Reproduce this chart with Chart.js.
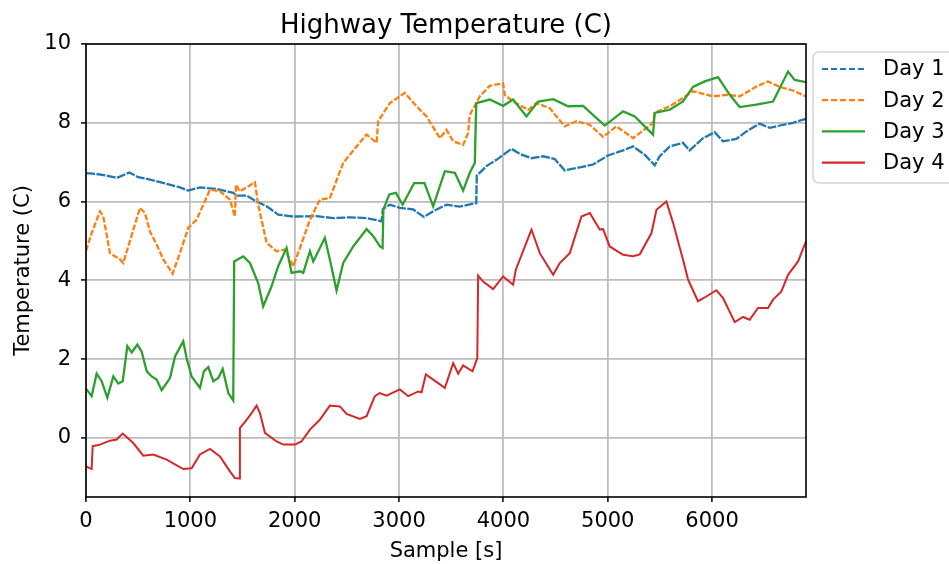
<!DOCTYPE html>
<html>
<head>
    <title>Highway Temperature</title>
    <script src="https://cdn.jsdelivr.net/npm/chart.js@4.4.0/dist/chart.umd.min.js"></script>
    <style>
        body { margin: 0; background: #fff; }
    </style>
</head>
<body>
    <canvas id="tempChart" width="949" height="564"></canvas>

    <script>
        // sample times [s] and temperatures (C) for each day
        const day1Samples = [0, 100, 200, 297, 415, 500, 613, 773, 900, 980, 1092, 1252, 1411, 1443, 1539, 1635, 1731, 1842, 1986, 2209, 2369, 2529, 2688, 2832, 2845, 2912, 3008, 3135, 3238, 3324, 3455, 3582, 3710, 3740, 3745, 3838, 3934, 4078, 4157, 4269, 4380, 4492, 4588, 4700, 4860, 5003, 5147, 5243, 5354, 5450, 5498, 5594, 5721, 5785, 5913, 6025, 6105, 6233, 6329, 6456, 6552, 6680, 6775, 6900];
        const day1Temps = [6.72, 6.70, 6.66, 6.60, 6.74, 6.62, 6.56, 6.45, 6.36, 6.28, 6.36, 6.32, 6.22, 6.15, 6.15, 6.00, 5.88, 5.67, 5.62, 5.63, 5.58, 5.60, 5.58, 5.50, 5.81, 5.92, 5.84, 5.80, 5.61, 5.75, 5.92, 5.87, 5.95, 5.96, 6.66, 6.90, 7.06, 7.34, 7.21, 7.10, 7.15, 7.08, 6.79, 6.85, 6.94, 7.17, 7.30, 7.40, 7.19, 6.92, 7.15, 7.40, 7.49, 7.30, 7.61, 7.76, 7.53, 7.59, 7.78, 7.98, 7.87, 7.95, 8.00, 8.10];

        const day2Samples = [0, 54, 134, 166, 230, 326, 357, 405, 517, 565, 613, 677, 741, 830, 900, 980, 1060, 1188, 1284, 1379, 1427, 1437, 1475, 1619, 1650, 1731, 1826, 1906, 1986, 2050, 2146, 2241, 2337, 2465, 2593, 2689, 2785, 2800, 2912, 3056, 3168, 3264, 3391, 3455, 3519, 3614, 3662, 3678, 3774, 3870, 3997, 4013, 4093, 4237, 4317, 4444, 4588, 4700, 4828, 4955, 5083, 5243, 5371, 5434, 5450, 5594, 5721, 5817, 6009, 6137, 6264, 6424, 6536, 6648, 6775, 6900];
        const day2Temps = [4.75, 5.20, 5.75, 5.62, 4.69, 4.53, 4.44, 4.86, 5.84, 5.71, 5.24, 4.91, 4.53, 4.17, 4.69, 5.33, 5.54, 6.30, 6.26, 6.05, 5.62, 6.43, 6.26, 6.49, 5.92, 4.95, 4.74, 4.78, 4.36, 4.82, 5.54, 6.05, 6.09, 6.98, 7.40, 7.70, 7.49, 8.04, 8.50, 8.76, 8.42, 8.16, 7.61, 7.82, 7.53, 7.44, 7.74, 8.20, 8.67, 8.94, 9.00, 8.71, 8.54, 8.33, 8.50, 8.37, 7.91, 8.04, 7.95, 7.64, 7.91, 7.61, 7.87, 8.00, 8.25, 8.42, 8.63, 8.80, 8.67, 8.71, 8.67, 8.92, 9.05, 8.91, 8.82, 8.67];

        const day3Samples = [0, 54, 102, 150, 204, 262, 310, 352, 396, 438, 492, 534, 582, 630, 677, 725, 805, 853, 932, 964, 1012, 1092, 1130, 1172, 1220, 1268, 1310, 1364, 1411, 1420, 1507, 1571, 1650, 1698, 1778, 1842, 1922, 1970, 2050, 2082, 2146, 2178, 2289, 2337, 2401, 2465, 2561, 2689, 2753, 2817, 2842, 2850, 2906, 2970, 3034, 3145, 3244, 3327, 3439, 3535, 3614, 3678, 3726, 3740, 3870, 3997, 4093, 4221, 4333, 4477, 4620, 4764, 4971, 5147, 5259, 5434, 5450, 5594, 5721, 5817, 5929, 6057, 6169, 6264, 6424, 6584, 6728, 6791, 6900];
        const day3Temps = [1.25, 1.06, 1.63, 1.44, 1.02, 1.56, 1.38, 1.44, 2.33, 2.17, 2.37, 2.19, 1.69, 1.56, 1.48, 1.21, 1.52, 2.07, 2.45, 2.03, 1.56, 1.27, 1.69, 1.80, 1.44, 1.52, 1.75, 1.14, 0.95, 4.48, 4.61, 4.44, 3.93, 3.34, 3.85, 4.36, 4.82, 4.19, 4.23, 4.19, 4.74, 4.48, 5.08, 4.53, 3.74, 4.44, 4.86, 5.30, 5.12, 4.86, 4.82, 5.80, 6.18, 6.22, 5.92, 6.47, 6.47, 5.88, 6.77, 6.73, 6.28, 6.73, 6.98, 8.50, 8.59, 8.43, 8.59, 8.16, 8.54, 8.60, 8.42, 8.43, 7.93, 8.29, 8.16, 7.70, 8.25, 8.33, 8.54, 8.91, 9.05, 9.16, 8.71, 8.40, 8.46, 8.54, 9.30, 9.09, 9.03];

        const day4Samples = [0, 54, 64, 134, 230, 294, 352, 453, 549, 645, 773, 932, 1012, 1092, 1188, 1284, 1379, 1427, 1469, 1475, 1539, 1587, 1635, 1667, 1715, 1826, 1890, 2002, 2065, 2146, 2241, 2337, 2433, 2497, 2625, 2689, 2768, 2816, 2880, 3008, 3088, 3184, 3216, 3257, 3327, 3439, 3519, 3567, 3614, 3704, 3750, 3758, 3806, 3902, 3997, 4093, 4119, 4269, 4349, 4477, 4540, 4636, 4748, 4828, 4923, 4955, 5019, 5147, 5243, 5307, 5419, 5467, 5562, 5626, 5721, 5770, 5865, 5945, 6041, 6105, 6217, 6296, 6360, 6440, 6536, 6584, 6664, 6728, 6824, 6900];
        const day4Temps = [-0.72, -0.79, -0.21, -0.17, -0.07, -0.04, 0.11, -0.13, -0.45, -0.42, -0.55, -0.79, -0.77, -0.42, -0.28, -0.47, -0.85, -1.02, -1.03, 0.25, 0.46, 0.63, 0.82, 0.63, 0.13, -0.09, -0.17, -0.17, -0.09, 0.21, 0.46, 0.82, 0.80, 0.61, 0.48, 0.55, 1.06, 1.14, 1.07, 1.23, 1.06, 1.18, 1.16, 1.61, 1.48, 1.27, 1.90, 1.63, 1.84, 1.69, 2.03, 4.12, 3.97, 3.78, 4.10, 3.89, 4.27, 5.29, 4.69, 4.14, 4.44, 4.69, 5.62, 5.71, 5.29, 5.30, 4.86, 4.65, 4.61, 4.66, 5.20, 5.79, 6.00, 5.46, 4.53, 4.02, 3.47, 3.59, 3.75, 3.55, 2.94, 3.07, 3.00, 3.30, 3.30, 3.51, 3.72, 4.14, 4.48, 4.99];

        const dayLabels = ['Day 1', 'Day 2', 'Day 3', 'Day 4'];
        const xTickValues = [0, 1000, 2000, 3000, 4000, 5000, 6000];
        const yTickValues = [0, 2, 4, 6, 8, 10];

        const colors = ['#1f77b4', '#ff7f0e', '#2ca02c', '#d62728'];
        const dashes = [[9, 1.5], [6, 2], [], []];

        function toPoints(xs, ys) {
            return xs.map((x, i) => ({ x: x, y: ys[i] }));
        }

        const series = [
            toPoints(day1Samples, day1Temps),
            toPoints(day2Samples, day2Temps),
            toPoints(day3Samples, day3Temps),
            toPoints(day4Samples, day4Temps)
        ];

        Chart.defaults.font.family = "'DejaVu Sans', sans-serif";
        Chart.defaults.color = '#000';

        // title, axis labels, frame and legend box drawn around the plot
        const decorations = {
            id: 'decorations',
            afterDraw(chart) {
                const ctx = chart.ctx;
                const a = chart.chartArea;
                ctx.save();

                ctx.strokeStyle = '#000';
                ctx.lineWidth = 1.6;
                ctx.strokeRect(a.left, a.top, a.right - a.left, a.bottom - a.top);

                ctx.fillStyle = '#000';
                ctx.textAlign = 'center';
                ctx.textBaseline = 'alphabetic';
                ctx.font = "26px 'DejaVu Sans'";
                ctx.fillText('Highway Temperature (C)', (a.left + a.right) / 2, 33);

                ctx.font = "21px 'DejaVu Sans'";
                ctx.fillText('Sample [s]', (a.left + a.right) / 2, 557);

                ctx.save();
                ctx.translate(29, (a.top + a.bottom) / 2);
                ctx.rotate(-Math.PI / 2);
                ctx.fillText('Temperature (C)', 0, 0);
                ctx.restore();

                // legend
                const lx = 813, ly = 52, lw = 180, lh = 131, r = 6;
                ctx.beginPath();
                ctx.moveTo(lx + r, ly);
                ctx.lineTo(lx + lw - r, ly);
                ctx.arcTo(lx + lw, ly, lx + lw, ly + r, r);
                ctx.lineTo(lx + lw, ly + lh - r);
                ctx.arcTo(lx + lw, ly + lh, lx + lw - r, ly + lh, r);
                ctx.lineTo(lx + r, ly + lh);
                ctx.arcTo(lx, ly + lh, lx, ly + lh - r, r);
                ctx.lineTo(lx, ly + r);
                ctx.arcTo(lx, ly, lx + r, ly, r);
                ctx.closePath();
                ctx.fillStyle = 'rgba(255,255,255,0.8)';
                ctx.fill();
                ctx.strokeStyle = '#d4d4d4';
                ctx.lineWidth = 1.5;
                ctx.stroke();

                ctx.textAlign = 'left';
                ctx.textBaseline = 'middle';
                ctx.font = "21px 'DejaVu Sans'";
                dayLabels.forEach((label, i) => {
                    const y = 69 + i * 31.2;
                    ctx.strokeStyle = colors[i];
                    ctx.lineWidth = 2.2;
                    ctx.setLineDash(i < 2 ? [6, 3] : []);
                    ctx.beginPath();
                    ctx.moveTo(822, y);
                    ctx.lineTo(865, y);
                    ctx.stroke();
                    ctx.setLineDash([]);
                    ctx.fillStyle = '#000';
                    ctx.fillText(label, 883, y + 1);
                });
                ctx.restore();
            }
        };

        const gridStyle = {
            color: '#bdbdbd',
            lineWidth: 1.8,
            tickLength: 5,
            tickColor: '#000',
            tickWidth: 1.5
        };

        const ctx = document.getElementById('tempChart').getContext('2d');
        new Chart(ctx, {
            type: 'line',
            data: {
                datasets: series.map((pts, i) => ({
                    label: dayLabels[i],
                    data: pts,
                    borderColor: colors[i],
                    borderWidth: i === 3 ? 2.0 : 2.3,
                    borderDash: dashes[i],
                    pointRadius: 0,
                    tension: 0,
                    fill: false,
                    order: 4 - i
                }))
            },
            options: {
                responsive: false,
                animation: false,
                devicePixelRatio: 1,
                layout: { padding: { top: 44, right: 143, left: 0, bottom: 0 } },
                plugins: {
                    legend: { display: false },
                    tooltip: { enabled: false }
                },
                scales: {
                    x: {
                        type: 'linear',
                        min: 0,
                        max: 6900,
                        afterBuildTicks(scale) {
                            scale.ticks = xTickValues.map(v => ({ value: v }));
                        },
                        afterFit(scale) {
                            scale.height = 67;
                        },
                        ticks: {
                            font: { size: 21 },
                            padding: 7,
                            maxRotation: 0,
                            autoSkip: false,
                            callback: v => String(v)
                        },
                        grid: gridStyle,
                        border: { display: false }
                    },
                    y: {
                        min: -1.5,
                        max: 10,
                        afterBuildTicks(scale) {
                            scale.ticks = yTickValues.map(v => ({ value: v }));
                        },
                        afterFit(scale) {
                            scale.width = 86;
                        },
                        ticks: {
                            font: { size: 21 },
                            padding: 10,
                            callback: v => String(v)
                        },
                        grid: gridStyle,
                        border: { display: false }
                    }
                }
            },
            plugins: [decorations]
        });
    </script>
</body>
</html>
